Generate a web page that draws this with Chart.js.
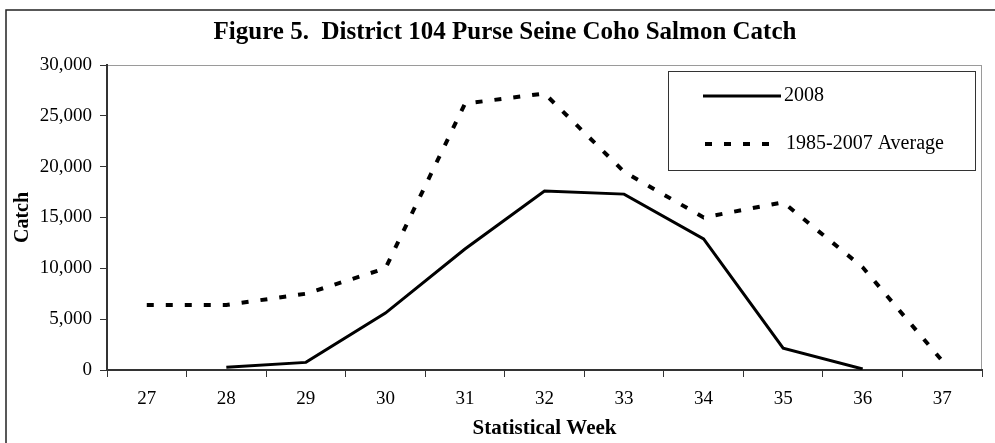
<!DOCTYPE html>
<html>
<head>
<meta charset="utf-8">
<script src="https://cdn.jsdelivr.net/npm/chart.js@4/dist/chart.umd.min.js"></script>
<style>
  body { margin: 0; background: #fff; }
  #chart { display: block; }
</style>
</head>
<body>
<canvas id="chart" width="995" height="443"></canvas>
<script>
// Statistical weeks and catch values
var weeks = ['27', '28', '29', '30', '31', '32', '33', '34', '35', '36', '37'];
var catch2008 = [null, 260, 750, 5600, 11900, 17600, 17300, 12900, 2150, 100, null];
var catchAverage = [6400, 6400, 7500, 10000, 26200, 27200, 19500, 15000, 16500, 10100, 900];
var seriesNames = ['2008', '1985-2007 Average'];
var yTicks = [0, 5000, 10000, 15000, 20000, 25000, 30000];

var FONT = "'Liberation Serif', 'Times New Roman', serif";

// outer frame + grey plot area border
var framePlugin = {
    id: 'frame',
    beforeDraw: function(chart){
        var ctx = chart.ctx, a = chart.chartArea;
        ctx.save();
        ctx.fillStyle = '#fff';
        ctx.fillRect(0, 0, chart.width, chart.height);
        ctx.strokeStyle = '#222';
        ctx.lineWidth = 1.5;
        ctx.strokeRect(6, 10, chart.width + 20, chart.height + 20);
        ctx.strokeStyle = '#9a9a9a';
        ctx.lineWidth = 1;
        ctx.strokeRect(a.left + 0.5, a.top + 0.5, a.right - a.left - 1, a.bottom - a.top);
        ctx.restore();
    }
};

// boxed legend inside the plot, top right
var boxLegend = {
    id: 'boxLegend',
    afterDraw: function(chart){
        var ctx = chart.ctx;
        var x = 668, y = 71, w = 307, h = 99;
        ctx.save();
        ctx.fillStyle = '#fff';
        ctx.fillRect(x, y, w, h);
        ctx.strokeStyle = '#333';
        ctx.lineWidth = 1;
        ctx.strokeRect(x + 0.5, y + 0.5, w, h);
        ctx.font = '20px ' + FONT;
        ctx.textBaseline = 'middle';
        ctx.fillStyle = '#000';
        chart.data.datasets.forEach(function(ds, i){
            var ly = y + 25 + i * 48;
            ctx.beginPath();
            ctx.strokeStyle = ds.borderColor;
            ctx.lineWidth = ds.borderWidth;
            ctx.setLineDash(ds.borderDash || []);
            ctx.moveTo(i ? 705 : 703, ly);
            ctx.lineTo(i ? 772 : 781, ly);
            ctx.stroke();
            ctx.setLineDash([]);
            ctx.fillText(ds.label, i ? 786 : 784, ly);
        });
        ctx.restore();
    }
};

new Chart(document.getElementById('chart').getContext('2d'), {
    type: 'line',
    data: {
        labels: weeks,
        datasets: [{
            label: seriesNames[0],
            data: catch2008,
            borderColor: '#000',
            borderWidth: 3,
            pointRadius: 0,
            tension: 0,
            fill: false
        }, {
            label: seriesNames[1],
            data: catchAverage,
            borderColor: '#000',
            borderWidth: 4,
            borderDash: [7, 12],
            pointRadius: 0,
            tension: 0,
            fill: false
        }]
    },
    options: {
        responsive: false,
        animation: false,
        layout: { padding: { left: 28, right: 13, top: 0, bottom: 0 } },
        plugins: {
            legend: { display: false },
            tooltip: { enabled: false },
            title: {
                display: true,
                text: 'Figure 5.  District 104 Purse Seine Coho Salmon Catch',
                color: '#000',
                font: { family: FONT, size: 25, weight: 'bold', lineHeight: 1.2 },
                padding: { top: 18, bottom: 17 }
            }
        },
        scales: {
            x: {
                offset: true,
                grid: { offset: true, drawOnChartArea: false, drawTicks: true, tickLength: 7, color: '#333', lineWidth: 1 },
                border: { display: true, color: '#333', width: 2 },
                ticks: { color: '#000', padding: 11, font: { family: FONT, size: 19 }, maxRotation: 0 },
                title: {
                    display: true,
                    text: 'Statistical Week',
                    color: '#000',
                    font: { family: FONT, size: 21, weight: 'bold', lineHeight: 1.2 },
                    padding: { top: 0, bottom: 2 }
                },
                afterFit: function(s){ s.height = 73; }
            },
            y: {
                min: 0,
                max: 30000,
                afterBuildTicks: function(s){ s.ticks = yTicks.map(function(v){ return { value: v }; }); },
                grid: { drawOnChartArea: false, drawTicks: true, tickLength: 7, color: '#333', lineWidth: 1 },
                border: { display: true, color: '#333', width: 2 },
                ticks: {
                    color: '#000',
                    padding: 8,
                    font: { family: FONT, size: 19 },
                    callback: function(v){ return Number(v).toLocaleString('en-US'); }
                },
                title: {
                    display: true,
                    text: 'Catch',
                    color: '#000',
                    font: { family: FONT, size: 20, weight: 'bold', lineHeight: 1.2 },
                    padding: { top: -17, bottom: 0 }
                },
                afterFit: function(s){ s.width = 79; }
            }
        }
    },
    plugins: [framePlugin, boxLegend]
});
</script>
</body>
</html>
